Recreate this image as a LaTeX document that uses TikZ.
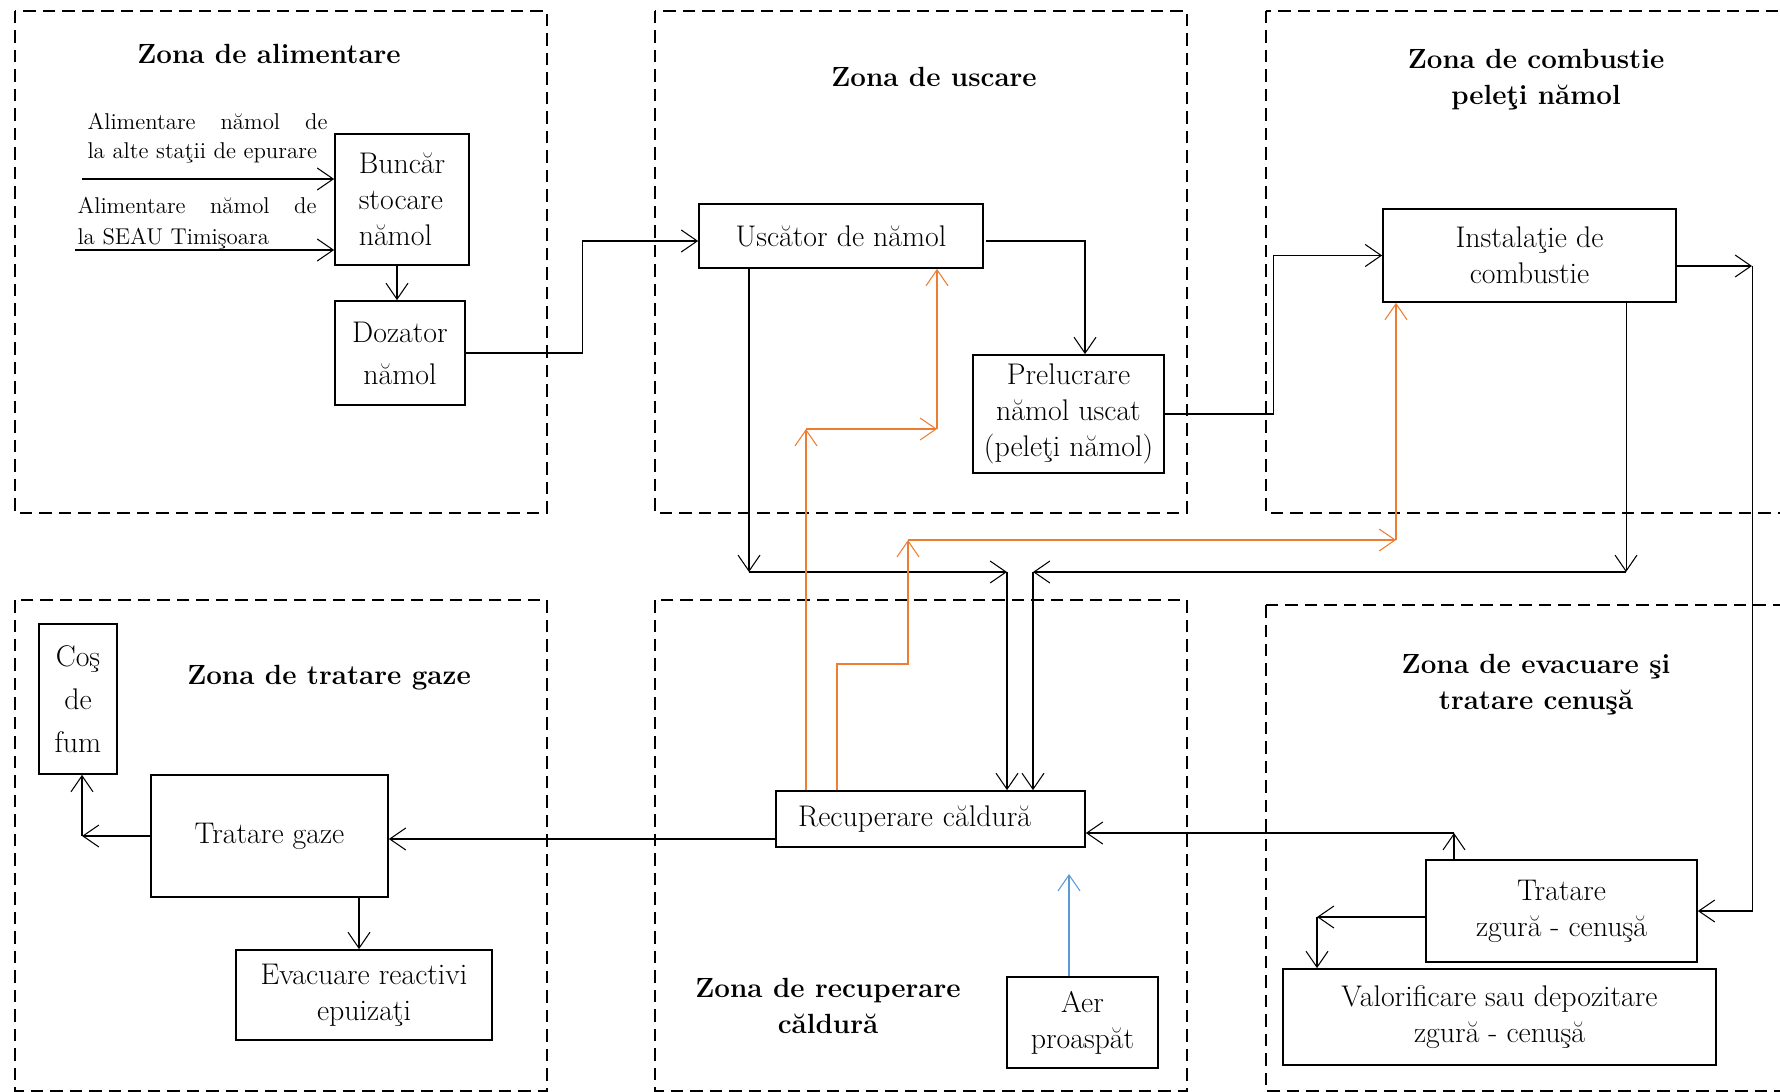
\documentclass[tikz,border=0pt]{standalone}
\usepackage{fontspec}
\usetikzlibrary{arrows.meta,calc}
\definecolor{heatc}{RGB}{237,125,49}
\definecolor{airc}{RGB}{91,155,213}
\tikzset{
  zone/.style={draw,line width=1.3pt,dash pattern=on 2.5mm off 1.4mm},
  blk/.style={draw,line width=1pt,align=center,inner sep=0pt,font=\fontsize{17}{20.5}\selectfont},
  ztitle/.style={align=center,font=\fontsize{15.8}{20.5}\selectfont\bfseries},
  infeed/.style={align=left,inner sep=0pt,text width=4.8cm,font=\fontsize{13}{16.5}\selectfont},
  heat/.style={draw=heatc},
  air/.style={draw=airc}
}

\begin{document}
\begin{tikzpicture}[x=0.02cm,y=-0.02cm,line width=0.6pt,>={Straight Barb[length=3.2mm,width=4.4mm]}]
\useasboundingbox (0,0) rectangle (1780,1091);
\begin{scope}
\clip (0,0) rectangle (1780,1091);
\draw[zone] (15,11) rectangle (547,513);
\draw[zone] (655,11) rectangle (1187,513);
\draw[zone] (1266,11) rectangle (1800,513);
\draw[zone] (15,600) rectangle (547,1091);
\draw[zone] (655,600) rectangle (1187,1091);
\draw[zone] (1266,605) rectangle (1800,1091);
\end{scope}

\node[ztitle] (t1) at (269,54) {Zona de alimentare};
\node[ztitle] (t2) at (934,77) {Zona de uscare};
\node[ztitle] (t3) at (1536,80) {Zona de combustie\\peleţi nămol};
\node[ztitle] (t4) at (329,678) {Zona de tratare gaze};
\node[ztitle] (t5) at (828,1006) {Zona de recuperare\\căldură};
\node[ztitle] (t6) at (1536,685) {Zona de evacuare şi\\tratare cenuşă};

\node[blk,align=left,minimum width=2.68cm,minimum height=2.62cm] (bunc) at (402,199.5) {Buncăr\\stocare\\nămol};
\node[blk,minimum width=2.6cm,minimum height=2.08cm] (doz) at (400,353) {Dozator\\[3.5pt]nămol};
\node[blk,minimum width=5.68cm,minimum height=1.28cm] (usc) at (841,236) {Uscător de nămol};
\node[blk,minimum width=3.82cm,minimum height=2.36cm] (prel) at (1068.5,414) {Prelucrare\\nămol uscat\\(peleţi nămol)};
\node[blk,minimum width=5.86cm,minimum height=1.86cm] (inst) at (1529.5,255.5) {Instalaţie de\\combustie};
\node[blk,minimum width=1.56cm,minimum height=3cm] (cos) at (78,699) {Coş\\[4pt]de\\[4pt]fum};
\node[blk,minimum width=4.74cm,minimum height=2.44cm] (tg) at (269.5,836) {Tratare gaze};
\node[blk,minimum width=5.12cm,minimum height=1.8cm] (evr) at (364,995) {Evacuare reactivi\\epuizaţi};
\node[blk,align=left,text width=5.3cm,inner xsep=0.44cm,minimum height=1.12cm] (rec) at (930.5,819) {Recuperare căldură};
\node[blk,minimum width=3.02cm,minimum height=1.82cm] (aer) at (1082.5,1022.5) {Aer\\proaspăt};
\node[blk,minimum width=5.42cm,minimum height=2.04cm] (tz) at (1561.5,911) {Tratare\\zgură - cenuşă};
\node[blk,minimum width=8.66cm,minimum height=1.92cm] (val) at (1499.5,1017) {Valorificare sau depozitare\\zgură - cenuşă};

\node[infeed,anchor=north west] (src1) at (87,113) {Alimentare\hfill nămol\hfill de\\la alte staţii de epurare};
\node[infeed,anchor=north west,text width=4.78cm,font=\fontsize{13}{17.5}\selectfont] (src2) at (77,197) {Alimentare\hfill nămol\hfill de\\la SEAU Timişoara};
\coordinate (in1) at (82,179);
\coordinate (in2) at (75,250);
\draw[->] (in1) -- (in1 -| bunc.west);
\draw[->] (in2) -- (in2 -| bunc.west);

\coordinate (b1) at (397,265);
\draw[->] (bunc.south -| b1) -- (doz.north -| b1);
\draw[->] (doz.east) -- ++(117,0) |- ($(usc.west)+(0,5)$);
\coordinate (p1) at (1085,241);
\draw[->] ($(usc.east)+(2,5)$) -| (prel.north -| p1);
\draw[->] (prel.east) -- ++(109,0) |- (inst.west);
\coordinate (c1) at (1752,266);
\draw[->] (inst.east |- c1) -- (c1);
\draw[->] (c1) |- (tz.east);

\coordinate (j1) at (749,572);
\coordinate (j2) at (1626,572);
\coordinate (m1) at (1007,572);
\coordinate (m2) at (1033,572);
\draw[->] (usc.south -| j1) -- (j1);
\draw[->] (j1) -- (m1);
\draw[->] (m1) -- (m1 |- rec.north);
\draw[->] (inst.south -| j2) -- (j2);
\draw[->] (j2) -- (m2);
\draw[->] (m2) -- (m2 |- rec.north);

\coordinate (o1) at (806,429);
\coordinate (o2) at (937,429);
\coordinate (o0) at (837,664);
\coordinate (o3) at (908,540);
\coordinate (o4) at (1396,540);
\draw[heat,->] (rec.north -| o1) -- (o1);
\draw[heat,->] (o1) -- (o2);
\draw[heat,->] (o2) -- (o2 |- usc.south);
\draw[heat,->] (rec.north -| o0) -- (o0) -| (o3);
\draw[heat,->] (o3) -- (o4);
\draw[heat,->] (o4) -- (o4 |- inst.south);

\coordinate (a1) at (1069,874);
\draw[air,->] (aer.north -| a1) -- (a1);

\draw[->] ($(rec.west)+(0,20)$) coordinate (r1) -- (r1 -| tg.east);
\coordinate (g1) at (82,836);
\draw[->] (tg.west) -- (g1);
\draw[->] (g1) -- (g1 |- cos.south);
\coordinate (e1) at (359,897);
\draw[->] (tg.south -| e1) -- (evr.north -| e1);

\coordinate (z1) at (1454,833);
\draw[->] (tz.north -| z1) -- (z1);
\draw[->] (z1) -- (z1 -| rec.east);
\coordinate (v1) at (1317,917);
\draw[->] (tz.west |- v1) -- (v1);
\draw[->] (v1) -- (v1 |- val.north);
\end{tikzpicture}
\end{document}
